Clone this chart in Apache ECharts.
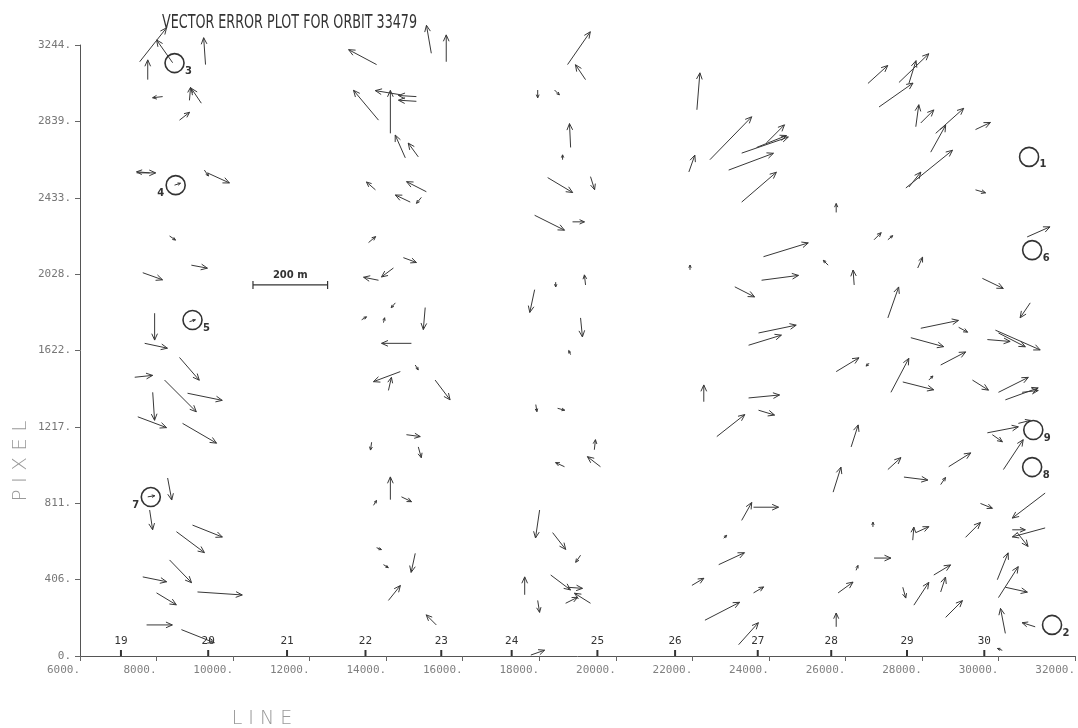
<!DOCTYPE html>
<html><head><meta charset="utf-8">
<script src="https://cdn.jsdelivr.net/npm/echarts@6/dist/echarts.min.js"></script>
<style>html,body{margin:0;padding:0;background:#fff}#chart{width:1078px;height:728px}</style>
</head><body><div id="chart"></div>
<script>
// ---- Data ----
const chartTitle = 'VECTOR ERROR PLOT FOR ORBIT 33479';
const xTitle = 'L I N E';
const yTitle = 'P I X E L';

// Frame numbers along the line axis
const frameLines = [7070, 9350, 11410, 13460, 15440, 17280, 19520, 21550, 23710, 25630, 27610, 29630];
const frameNames = ['19', '20', '21', '22', '23', '24', '25', '26', '27', '28', '29', '30'];

// Error vectors: tail position (line, pixel) and error components (metres east, metres north)
const arrowLine = [
  7560,8420,7770,9280,8160,9170,8860,8600,7480,7820,8470,9250,9330,8340,8910,7640,8860,7950,7690,8600,7430,8210,8810,7900,7510,8680,8290,7770,7820,8940,8520,8340,7640,8000,9070,7740,8650,
  13750,15180,15570,13800,14110,14370,14790,14790,14500,14840,13720,15050,14630,14920,13540,14450,14190,13800,14240,13360,13930,15020,14660,14370,14060,14760,15280,14530,14840,13620,14110,14400,13670,13750,13930,14760,14060,15310,
  17960,18400,18820,18610,18220,17880,18870,17880,18430,18740,19210,19340,19210,19080,18820,17910,18480,18660,18010,18350,17620,18300,17960,18690,17780,19440,19600,19080,18740,19340,
  22120,21910,22460,23290,23680,23940,22950,23290,23860,23810,23110,21940,23730,23470,22300,23470,23730,22640,23290,23600,22820,22690,21990,23600,22330,23210,
  26590,27400,26880,27660,27840,27970,28230,28360,29400,27580,27660,29400,25760,25550,26230,26750,27110,27890,27110,27970,25760,26620,27190,27500,28490,28180,27710,28960,26150,25680,27110,28700,27530,28490,26720,27760,27840,29140,29530,26750,26280,25810,28310,27500,27790,28490,28620,25760,30100,
  30750,29580,30830,29920,29710,30000,29320,30000,30180,30620,29710,29840,30520,30130,31220,31220,30490,30360,29970,30000,30180,30180,30960
];
const arrowPixel = [
  3155,3150,3060,3140,2970,2935,2950,2845,2565,2565,2500,2580,2565,2230,2075,2035,1775,1820,1660,1585,1480,1465,1395,1400,1270,1235,945,845,775,695,660,510,420,335,340,165,140,
  3140,3200,3155,2845,2775,2980,2970,2945,2645,2650,2475,2465,2410,2435,2195,2115,2060,1995,1875,1785,1770,1850,1660,1510,1410,1545,1465,1175,1110,1135,830,845,800,575,485,545,295,165,
  3005,3005,2700,2635,2540,2340,2305,1945,1985,3140,3060,2545,1970,1795,1600,1335,1315,1005,775,655,325,430,295,280,5,1095,1005,535,365,280,
  2900,2570,2635,2670,2700,2725,2580,2410,2120,1995,1960,2050,1715,1650,1350,1370,1305,1165,720,790,625,485,375,335,190,60,
  3040,3045,2915,3040,2810,2830,2675,2775,2795,2485,2490,2475,2355,2075,1970,2210,2210,2060,1795,1740,1510,1555,1400,1455,1545,1465,1690,1745,1110,870,990,1005,950,910,685,615,655,630,810,520,455,335,430,365,270,340,205,155,30,
  2225,2005,1875,1730,1680,1715,1465,1400,1360,1400,1185,1175,1235,990,865,680,655,670,405,310,365,120,155
];
const arrowEast = [
  72,-43,0,-5,-27,-27,3,27,51,-35,16,11,59,16,43,53,16,0,61,53,48,85,93,5,77,91,11,19,8,80,75,59,64,53,120,69,88,
  -75,-13,0,-67,0,-67,-48,-48,-27,-27,-24,-53,-40,-13,19,35,-32,-40,-11,13,3,-5,-80,-72,8,8,40,37,8,-3,0,27,8,13,13,-11,32,-27,
  0,13,-3,0,67,80,32,-13,0,61,-27,11,-3,5,-5,3,19,-24,-11,35,0,53,5,32,37,3,-35,-13,40,-43,
  8,16,112,125,80,48,120,93,120,99,53,0,101,88,0,83,43,75,27,67,8,69,32,27,93,53,
  53,80,91,19,8,35,40,75,40,125,32,27,0,-13,-3,19,13,13,29,101,61,-8,48,83,67,11,88,24,19,21,35,59,64,13,0,3,35,40,32,45,5,40,45,8,40,13,45,0,-13,
  61,56,-27,120,61,72,43,80,88,43,83,27,32,53,-88,-88,29,35,29,53,59,-13,-35
];
const arrowNorth = [
  91,61,53,72,-3,40,35,21,0,3,5,-16,-27,-11,-8,-19,5,-72,-13,-61,5,-85,-19,-75,-29,-53,-59,3,-53,-32,-56,-61,-13,-32,-8,0,-35,
  40,75,72,80,115,11,3,3,61,37,21,27,19,-16,16,-13,-24,8,-13,8,13,-59,0,-27,35,-13,-53,-5,-29,-21,61,-13,13,-5,-8,-51,40,27,
  -21,-13,64,13,-40,-40,0,-61,-13,88,40,-35,27,-51,11,-19,-5,11,-75,-45,48,-40,-32,16,13,27,27,-19,-3,27,
  99,45,115,43,32,48,45,80,37,13,-27,13,21,27,45,8,-13,59,48,0,8,32,19,16,48,59,
  48,77,64,61,59,35,72,67,19,101,40,-8,24,13,40,19,11,29,83,21,37,-8,91,-21,35,11,-24,-13,59,67,32,37,-8,19,13,35,16,40,-13,0,13,29,27,-29,61,40,45,37,5,
  27,-27,-40,-53,-5,-37,-27,40,32,5,16,-19,8,80,-67,-24,-37,0,72,83,-13,67,11
];

// Numbered control points (circled)
const circleLine  = [30800, 31400, 8470, 8500, 8940, 30880, 7850, 30880, 30910];
const circlePixel = [2650, 165, 3148, 2500, 1784, 2155, 844, 1003, 1200];
const circleNames = ['1', '2', '3', '4', '5', '6', '7', '8', '9'];
const circleSide  = ['right', 'right', 'right', 'left', 'right', 'right', 'left', 'right', 'right'];

// Scale bar: 200 m spans this many line units
const scaleBarLine = 10520;
const scaleBarPixel = 1970;
const scaleBarSpan = 1950;
const scaleBarMeters = 200;
const scaleBarLabel = '200 m';

// ---- Chart ----
const INK = '#383838';
const chart = echarts.init(document.getElementById('chart'));

function pxPerMeter(api) {
  const a = api.coord([scaleBarLine, scaleBarPixel]);
  const b = api.coord([scaleBarLine + scaleBarSpan, scaleBarPixel]);
  return (b[0] - a[0]) / scaleBarMeters;
}

function arrowItem(params, api) {
  const t = api.coord([api.value(0), api.value(1)]);
  const k = pxPerMeter(api);
  const h = [t[0] + api.value(2) * k, t[1] - api.value(3) * k];
  const dx = h[0] - t[0], dy = h[1] - t[1];
  const len = Math.hypot(dx, dy);
  const children = [{
    type: 'line', shape: { x1: t[0], y1: t[1], x2: h[0], y2: h[1] },
    style: { stroke: INK, lineWidth: 1 }
  }];
  if (len > 0.5) {
    const ang = Math.atan2(dy, dx);
    const hl = Math.min(7, Math.max(3, len * 0.45));
    const phi = 0.42;
    const p1 = [h[0] - hl * Math.cos(ang - phi), h[1] - hl * Math.sin(ang - phi)];
    const p2 = [h[0] - hl * Math.cos(ang + phi), h[1] - hl * Math.sin(ang + phi)];
    children.push({ type: 'polyline', shape: { points: [p1, h, p2] }, style: { stroke: INK, lineWidth: 1, fill: null } });
  }
  return { type: 'group', children };
}

const monoFont = 'DejaVu Sans Mono, Liberation Mono, monospace';

chart.setOption({
  animation: false,
  backgroundColor: '#ffffff',
  grid: { left: 80, right: -2, top: 45, bottom: 72, containLabel: false },
  xAxis: {
    type: 'value', min: 6000, max: 32000, interval: 2000,
    axisLine: { show: true, onZero: false, lineStyle: { color: '#555', width: 1 } },
    axisTick: { show: true, length: 5, lineStyle: { color: '#666' } },
    axisLabel: { formatter: v => v + '.', align: 'right', margin: 9, color: '#808080', fontFamily: monoFont, fontSize: 11 },
    splitLine: { show: false }
  },
  yAxis: {
    type: 'value', min: 0, max: 3244, interval: 405.5,
    axisLine: { show: true, onZero: false, lineStyle: { color: '#555', width: 1 } },
    axisTick: { show: true, length: 5, lineStyle: { color: '#666' } },
    axisLabel: { formatter: v => Math.round(v) + '.', margin: 9, color: '#777', fontFamily: monoFont, fontSize: 11 },
    splitLine: { show: false }
  },
  graphic: [
    { type: 'text', x: 162, y: 23, scaleX: 0.67, scaleY: 1,
      style: { text: chartTitle, fill: '#333', fontSize: 19, fontFamily: 'DejaVu Sans, sans-serif', align: 'left', verticalAlign: 'middle' } },
    { type: 'text', x: 21, y: 461, rotation: Math.PI / 2,
      style: { text: yTitle, fill: '#999', fontSize: 20, fontFamily: 'DejaVu Sans ExtraLight, DejaVu Sans, sans-serif', fontWeight: 'lighter', align: 'center', verticalAlign: 'middle' } },
    { type: 'text', x: 262, y: 719,
      style: { text: xTitle, fill: '#999', fontSize: 19, fontFamily: 'DejaVu Sans ExtraLight, DejaVu Sans, sans-serif', fontWeight: 'lighter', align: 'center', verticalAlign: 'middle' } }
  ],
  series: [
    {
      type: 'custom', name: 'errors', clip: false,
      data: arrowLine.map((l, i) => [l, arrowPixel[i], arrowEast[i], arrowNorth[i]]),
      renderItem: arrowItem
    },
    {
      type: 'custom', name: 'frames', clip: false,
      data: frameLines.map((l, i) => [l, 0, frameNames[i]]),
      renderItem: (params, api) => {
        const p = api.coord([api.value(0), api.value(1)]);
        return { type: 'group', children: [
          { type: 'line', shape: { x1: p[0], y1: p[1], x2: p[0], y2: p[1] - 6 }, style: { stroke: '#333', lineWidth: 2 } },
          { type: 'text', x: p[0], y: p[1] - 15, style: { text: frameNames[params.dataIndex], fill: '#333', fontSize: 11, fontFamily: monoFont, align: 'center', verticalAlign: 'middle' } }
        ] };
      }
    },
    {
      type: 'custom', name: 'points', clip: false,
      data: circleLine.map((l, i) => [l, circlePixel[i]]),
      renderItem: (params, api) => {
        const p = api.coord([api.value(0), api.value(1)]);
        const i = params.dataIndex;
        const left = circleSide[i] === 'left';
        return { type: 'group', children: [
          { type: 'circle', shape: { cx: p[0], cy: p[1], r: 9.5 }, style: { stroke: '#333', fill: 'transparent', lineWidth: 1.6 } },
          { type: 'text', x: p[0] + (left ? -15 : 14), y: p[1] + 8,
            style: { text: circleNames[i], fill: '#333', fontSize: 10, fontWeight: 'bold', fontFamily: 'DejaVu Sans, sans-serif', align: 'center', verticalAlign: 'middle' } }
        ] };
      }
    },
    {
      type: 'custom', name: 'scale', clip: false,
      data: [[scaleBarLine, scaleBarPixel]],
      renderItem: (params, api) => {
        const a = api.coord([api.value(0), api.value(1)]);
        const b = api.coord([api.value(0) + scaleBarSpan, api.value(1)]);
        const st = { stroke: '#333', lineWidth: 1.2 };
        return { type: 'group', children: [
          { type: 'line', shape: { x1: a[0], y1: a[1], x2: b[0], y2: b[1] }, style: st },
          { type: 'line', shape: { x1: a[0], y1: a[1] - 4, x2: a[0], y2: a[1] + 4 }, style: st },
          { type: 'line', shape: { x1: b[0], y1: b[1] - 4, x2: b[0], y2: b[1] + 4 }, style: st },
          { type: 'text', x: (a[0] + b[0]) / 2, y: a[1] - 10,
            style: { text: scaleBarLabel, fill: '#333', fontSize: 10, fontWeight: 'bold', fontFamily: 'DejaVu Sans, sans-serif', align: 'center', verticalAlign: 'middle' } }
        ] };
      }
    }
  ]
});
</script></body></html>
